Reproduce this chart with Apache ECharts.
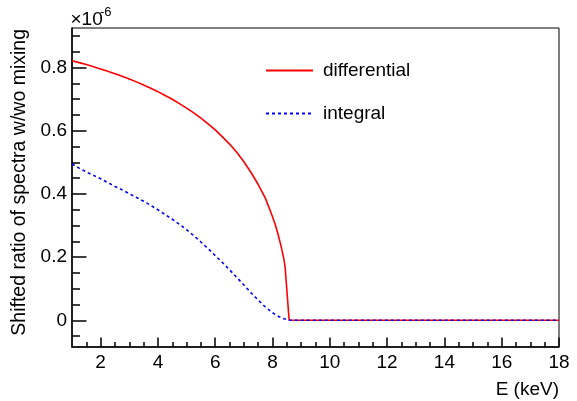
<!DOCTYPE html>
<html>
<head>
<meta charset="utf-8">
<script src="https://cdn.jsdelivr.net/npm/echarts@6/dist/echarts.min.js"></script>
<style>
html,body{margin:0;padding:0;background:#fff;}
#c{width:577px;height:401px;}
</style>
</head>
<body>
<div id="c"></div>
<script>
// Data (values in units of 1e-6)
var energies = [1, 1.25, 1.5, 1.75, 2, 2.25, 2.5, 2.75, 3, 3.25, 3.5, 3.75, 4, 4.25, 4.5, 4.75, 5, 5.25, 5.5, 5.75, 6, 6.25, 6.5, 6.75, 7, 7.25, 7.5, 7.75, 8, 8.1, 8.2, 8.3, 8.4, 8.44, 8.58, 10, 12, 14, 16, 18];
var differential = [0.822, 0.816, 0.810, 0.803, 0.796, 0.789, 0.781, 0.773, 0.764, 0.755, 0.745, 0.735, 0.724, 0.712, 0.700, 0.686, 0.672, 0.657, 0.640, 0.622, 0.603, 0.581, 0.558, 0.532, 0.502, 0.468, 0.430, 0.387, 0.328, 0.302, 0.270, 0.234, 0.192, 0.168, 0, 0, 0, 0, 0, 0];
var integral = [0.495, 0.482, 0.470, 0.459, 0.448, 0.436, 0.424, 0.413, 0.401, 0.389, 0.377, 0.364, 0.350, 0.335, 0.320, 0.304, 0.287, 0.268, 0.248, 0.227, 0.205, 0.183, 0.160, 0.136, 0.112, 0.087, 0.064, 0.042, 0.024, 0.018, 0.013, 0.008, 0.005, 0.004, 0, 0, 0, 0, 0, 0];
var seriesNames = ['differential', 'integral'];
var xMajorTicks = [2, 4, 6, 8, 10, 12, 14, 16, 18];
var xMinorTicks = [1.5, 2.5, 3, 3.5, 4.5, 5, 5.5, 6.5, 7, 7.5, 8.5, 9, 9.5, 10.5, 11, 11.5, 12.5, 13, 13.5, 14.5, 15, 15.5, 16.5, 17, 17.5];
var yMajorTicks = [0, 0.2, 0.4, 0.6, 0.8];
var yMinorTicks = [-0.05, 0.05, 0.1, 0.15, 0.25, 0.3, 0.35, 0.45, 0.5, 0.55, 0.65, 0.7, 0.75, 0.85, 0.9];
var xTitle = 'E (keV)';
var yTitle = 'Shifted ratio of spectra w/wo mixing';

function pairs(xs, ys) { return xs.map(function (x, i) { return [x, ys[i]]; }); }

var FONT = '"Liberation Sans", Arial, Helvetica, sans-serif';
var X_MIN = 1, X_MAX = 18, Y_MIN = -0.0845, Y_MAX = 0.9256;

var chart = echarts.init(document.getElementById('c'), null, { renderer: 'canvas' });

function xAxisCfg(ticks, len, labels, line) {
  return {
    type: 'value', min: X_MIN, max: X_MAX, position: 'bottom',
    axisLine: { show: line, onZero: false, lineStyle: { color: '#000', width: 1.5 } },
    axisTick: { show: true, inside: true, length: len, customValues: ticks, lineStyle: { color: '#000', width: 1.5 } },
    axisLabel: { show: labels, customValues: ticks, margin: 6, color: '#000', fontFamily: FONT, fontSize: 19 },
    splitLine: { show: false }
  };
}
function yAxisCfg(ticks, len, labels, line) {
  return {
    type: 'value', min: Y_MIN, max: Y_MAX, position: 'left',
    axisLine: { show: line, onZero: false, lineStyle: { color: '#000', width: 1.5 } },
    axisTick: { show: true, inside: true, length: len, customValues: ticks, lineStyle: { color: '#000', width: 1.5 } },
    axisLabel: { show: labels, customValues: ticks, margin: 5, color: '#000', fontFamily: FONT, fontSize: 19,
      formatter: function (v) { return String(+v.toFixed(2)); } },
    splitLine: { show: false }
  };
}

chart.setOption({
  animation: false,
  backgroundColor: '#fff',
  grid: { left: 72, right: 18, top: 28, bottom: 54, show: true, borderColor: '#000', borderWidth: 1, containLabel: false },
  xAxis: [xAxisCfg(xMajorTicks, 9.5, true, true), xAxisCfg(xMinorTicks, 5, false, false)],
  yAxis: [yAxisCfg(yMajorTicks, 14.5, true, true), yAxisCfg(yMinorTicks, 8, false, false)],
  legend: {
    orient: 'vertical', left: 265, top: 61, padding: 0,
    itemWidth: 47, itemHeight: 20, itemGap: 24,
    data: seriesNames,
    itemStyle: { opacity: 0 },
    textStyle: { color: '#000', fontFamily: FONT, fontSize: 19, padding: [0, 0, 0, 5] }
  },
  series: [
    { name: seriesNames[0], type: 'line', xAxisIndex: 0, yAxisIndex: 0, symbol: 'none', showSymbol: false, smooth: false,
      lineStyle: { color: '#ff0000', width: 1.6 }, itemStyle: { color: '#ff0000' },
      data: pairs(energies, differential) },
    { name: seriesNames[1], type: 'line', xAxisIndex: 0, yAxisIndex: 0, symbol: 'none', showSymbol: false, smooth: false,
      lineStyle: { color: '#0000ff', width: 1.6, type: [3, 3] }, itemStyle: { color: '#0000ff' },
      data: pairs(energies, integral) }
  ],
  graphic: [
    { type: 'text', x: 559, y: 390, style: { text: xTitle, align: 'right', verticalAlign: 'middle', fill: '#000', font: '19px ' + FONT } },
    { type: 'text', x: 20, y: 29, rotation: Math.PI / 2, style: { text: yTitle, align: 'right', verticalAlign: 'middle', fill: '#000', font: '19.5px ' + FONT } },
    { type: 'text', x: 70.5, y: 19.5, style: { text: '\u00d710', align: 'left', verticalAlign: 'middle', fill: '#000', font: '19px ' + FONT } },
    { type: 'text', x: 100, y: 12, style: { text: '-6', align: 'left', verticalAlign: 'middle', fill: '#000', font: '13px ' + FONT } }
  ]
});
</script>
</body>
</html>
